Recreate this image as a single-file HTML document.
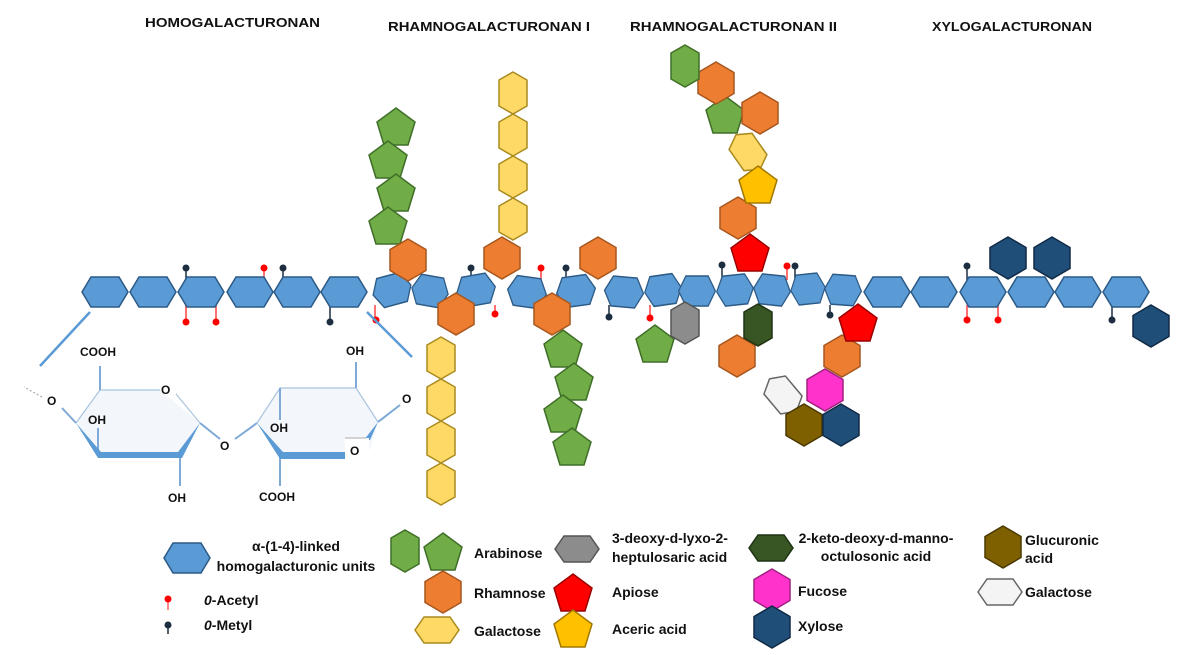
<!DOCTYPE html>
<html><head><meta charset="utf-8"><style>
html,body{margin:0;padding:0;background:#fff}
svg{display:block}
text{font-family:"Liberation Sans",sans-serif;font-weight:bold;fill:#111}
.t{font-size:13px}
.l{font-size:14px}
.c{font-size:12px}
</style></head><body>
<svg width="1179" height="655" viewBox="0 0 1179 655" xmlns="http://www.w3.org/2000/svg">
<defs>
<polygon id="hb" points="-23,0 -14,-15 14,-15 23,0 14,15 -14,15" stroke-width="1.5"/>
<polygon id="hx" points="0,-21 18,-10.5 18,10.5 0,21 -18,10.5 -18,-10.5" stroke-width="1.5"/>
<polygon id="hv" points="0,-21 14,-13 14,13 0,21 -14,13 -14,-13" stroke-width="1.5"/>
<polygon id="hh" points="-22,0 -13,-13 13,-13 22,0 13,13 -13,13" stroke-width="1.5"/>
<polygon id="pt" points="0,-20 19,-6 12,17 -12,17 -19,-6" stroke-width="1.5"/>
</defs>

<!-- titles -->
<text class="t" x="145" y="27" textLength="175" lengthAdjust="spacingAndGlyphs">HOMOGALACTURONAN</text>
<text class="t" x="388" y="31" textLength="202" lengthAdjust="spacingAndGlyphs">RHAMNOGALACTURONAN I</text>
<text class="t" x="630" y="31" textLength="207" lengthAdjust="spacingAndGlyphs">RHAMNOGALACTURONAN II</text>
<text class="t" x="932" y="31" textLength="160" lengthAdjust="spacingAndGlyphs">XYLOGALACTURONAN</text>

<!-- modifier stems -->
<g stroke-width="1.5">
<g stroke="#1c2e40">
<line x1="186" y1="268" x2="186" y2="280"/><line x1="283" y1="268" x2="283" y2="280"/><line x1="330" y1="305" x2="330" y2="322"/>
<line x1="471" y1="268" x2="471" y2="282"/><line x1="566" y1="268" x2="566" y2="282"/><line x1="609" y1="305" x2="609" y2="317"/>
<line x1="722" y1="265" x2="722" y2="280"/><line x1="795" y1="266" x2="795" y2="280"/><line x1="830" y1="305" x2="830" y2="315"/>
<line x1="967" y1="266" x2="967" y2="280"/><line x1="1112" y1="305" x2="1112" y2="320"/>
</g>
<g stroke="#ff4040">
<line x1="186" y1="305" x2="186" y2="321"/><line x1="216" y1="305" x2="216" y2="321"/><line x1="264" y1="268" x2="264" y2="280"/>
<line x1="375" y1="305" x2="375" y2="320"/><line x1="495" y1="305" x2="495" y2="314"/><line x1="541" y1="268" x2="541" y2="280"/>
<line x1="650" y1="305" x2="650" y2="318"/><line x1="787" y1="266" x2="787" y2="280"/>
<line x1="967" y1="305" x2="967" y2="320"/><line x1="998" y1="305" x2="998" y2="320"/>
</g>
</g>
<g fill="#1c2e40">
<circle cx="186" cy="268" r="3.5"/><circle cx="283" cy="268" r="3.5"/><circle cx="330" cy="322" r="3.5"/>
<circle cx="471" cy="268" r="3.5"/><circle cx="566" cy="268" r="3.5"/><circle cx="609" cy="317" r="3.5"/>
<circle cx="722" cy="265" r="3.5"/><circle cx="795" cy="266" r="3.5"/><circle cx="830" cy="315" r="3.5"/>
<circle cx="967" cy="266" r="3.5"/><circle cx="1112" cy="320" r="3.5"/>
</g>
<g fill="#ff0000">
<circle cx="186" cy="322" r="3.5"/><circle cx="216" cy="322" r="3.5"/><circle cx="264" cy="268" r="3.5"/>
<circle cx="376" cy="320" r="3.5"/><circle cx="495" cy="314" r="3.5"/><circle cx="541" cy="268" r="3.5"/>
<circle cx="650" cy="318" r="3.5"/><circle cx="787" cy="266" r="3.5"/>
<circle cx="967" cy="320" r="3.5"/><circle cx="998" cy="320" r="3.5"/>
</g>

<!-- backbone -->
<g fill="#5b9bd5" stroke="#2c5a86">
<use href="#hb" x="105" y="292"/><use href="#hb" x="153" y="292"/><use href="#hb" x="201" y="292"/>
<use href="#hb" x="250" y="292"/><use href="#hb" x="297" y="292"/><use href="#hb" x="344" y="292"/>
<use href="#hb" transform="translate(392,290) rotate(-15) scale(0.85,1)"/>
<use href="#hb" transform="translate(430,291) rotate(10) scale(0.8,1)"/>
<use href="#hb" transform="translate(476,290) rotate(-10) scale(0.85,1)"/>
<use href="#hb" transform="translate(527,292) rotate(8) scale(0.85,1)"/>
<use href="#hb" transform="translate(576,291) rotate(-8) scale(0.85,1)"/>
<use href="#hb" transform="translate(624,292) rotate(5) scale(0.85,1)"/>
<use href="#hb" transform="translate(663,290) rotate(-8) scale(0.8,1)"/>
<use href="#hb" transform="translate(697,291) scale(0.8,1)"/>
<use href="#hb" transform="translate(735,290) rotate(-6) scale(0.8,1)"/>
<use href="#hb" transform="translate(772,290) rotate(6) scale(0.8,1)"/>
<use href="#hb" transform="translate(808,289) rotate(-6) scale(0.75,1)"/>
<use href="#hb" transform="translate(843,290) rotate(4) scale(0.8,1)"/>
<use href="#hb" x="887" y="292"/><use href="#hb" x="934" y="292"/><use href="#hb" x="983" y="292"/>
<use href="#hb" x="1031" y="292"/><use href="#hb" x="1078" y="292"/><use href="#hb" x="1126" y="292"/>
</g>

<!-- RG I side chains -->
<g fill="#70ad47" stroke="#3f6e28">
<use href="#pt" x="396" y="128"/><use href="#pt" x="388" y="161"/><use href="#pt" x="396" y="194"/><use href="#pt" x="388" y="227"/>
<use href="#pt" x="563" y="350"/><use href="#pt" x="574" y="383"/><use href="#pt" x="563" y="415"/><use href="#pt" x="572" y="448"/>
<use href="#pt" x="655" y="345"/>
<use href="#pt" x="725" y="116"/>
</g>
<g fill="#ffd966" stroke="#a88a1e">
<use href="#hv" x="513" y="93"/><use href="#hv" x="513" y="135"/><use href="#hv" x="513" y="177"/><use href="#hv" x="513" y="219"/>
<use href="#hv" x="441" y="358"/><use href="#hv" x="441" y="400"/><use href="#hv" x="441" y="442"/><use href="#hv" x="441" y="484"/>
<use href="#hv" transform="translate(748,152) rotate(-35)"/>
</g>
<g fill="#ed7d31" stroke="#a6561e">
<use href="#hx" x="408" y="260"/><use href="#hx" x="456" y="314"/><use href="#hx" x="502" y="258"/>
<use href="#hx" x="552" y="314"/><use href="#hx" x="598" y="258"/>
<use href="#hx" x="716" y="83"/><use href="#hx" x="760" y="113"/><use href="#hx" x="738" y="218"/>
<use href="#hx" x="737" y="356"/><use href="#hx" x="842" y="356"/>
</g>
<!-- RG II -->
<use href="#hv" x="685" y="66" fill="#70ad47" stroke="#3f6e28"/>
<use href="#pt" x="758" y="186" fill="#ffc000" stroke="#a07800"/>
<use href="#pt" x="750" y="254" fill="#ff0000" stroke="#9a0000"/>
<use href="#pt" x="858" y="324" fill="#ff0000" stroke="#9a0000"/>
<use href="#hv" x="685" y="323" fill="#8c8c8c" stroke="#555"/>
<use href="#hv" x="758" y="325" fill="#375623" stroke="#1e3313"/>
<use href="#hx" x="825" y="390" fill="#ff33cc" stroke="#a0207f"/>
<use href="#hv" transform="translate(783,395) rotate(-40)" fill="#f4f4f4" stroke="#666"/>
<use href="#hx" x="804" y="425" fill="#7f6000" stroke="#4a3800"/>
<use href="#hx" x="841" y="425" fill="#1f4e79" stroke="#102a45"/>
<!-- XG -->
<g fill="#1f4e79" stroke="#102a45">
<use href="#hx" x="1008" y="258"/><use href="#hx" x="1052" y="258"/><use href="#hx" x="1151" y="326"/>
</g>

<!-- structure -->
<g stroke="#5b9bd5" stroke-width="2.5"><line x1="90" y1="312" x2="40" y2="366"/><line x1="367" y1="312" x2="412" y2="357"/></g>
<polygon points="76,423 100,390 160,390 200,423 178,455 98,455" fill="#f3f7fc"/>
<polygon points="257,423 280,388 356,388 378,422 368,455 280,455" fill="#f3f7fc"/>
<g stroke="#a9c4df" stroke-width="1.2" fill="none">
<polyline points="76,423 100,390 160,390"/><line x1="176" y1="394" x2="200" y2="423"/>
<polyline points="257,423 280,388 356,388 378,422"/>
<line x1="62" y1="408" x2="76" y2="423" stroke="#7fa9d6" stroke-width="2"/>
<line x1="42" y1="397" x2="24" y2="387" stroke-dasharray="2,2" stroke="#aaa"/>
</g>
<g stroke="#7fa9d6" stroke-width="2" fill="none">
<line x1="100" y1="366" x2="100" y2="390"/><line x1="98" y1="428" x2="98" y2="455"/>
<line x1="180" y1="455" x2="180" y2="486"/>
<line x1="200" y1="423" x2="220" y2="439"/><line x1="235" y1="439" x2="257" y2="423"/>
<line x1="280" y1="388" x2="280" y2="420"/><line x1="356" y1="362" x2="356" y2="388"/>
<line x1="378" y1="422" x2="400" y2="405"/><line x1="280" y1="455" x2="280" y2="486"/>
</g>
<polygon points="76,423 101,452 178,452 200,423 182,458 98,458" fill="#5b9bd5"/>
<polygon points="257,423 283,452 345,452 345,459 280,459" fill="#5b9bd5"/>
<polygon points="378,422 370,440 364,440" fill="#5b9bd5"/>
<rect x="345" y="438" width="24" height="22" fill="#fff"/>
<line x1="345" y1="438" x2="366" y2="438" stroke="#aaa"/>
<g class="c">
<text x="80" y="356">COOH</text><text x="88" y="424">OH</text><text x="168" y="502">OH</text>
<text x="161" y="394">O</text><text x="47" y="405">O</text><text x="220" y="450">O</text>
<text x="270" y="432">OH</text><text x="346" y="355">OH</text><text x="402" y="403">O</text>
<text x="350" y="455">O</text><text x="259" y="501">COOH</text>
</g>

<!-- legend -->
<use href="#hb" x="187" y="558" fill="#5b9bd5" stroke="#2c5a86"/>
<text class="l" x="296" y="551" text-anchor="middle">α-(1-4)-linked</text>
<text class="l" x="296" y="571" text-anchor="middle">homogalacturonic units</text>
<line x1="168" y1="600" x2="168" y2="610" stroke="#ff6060" stroke-width="1.5"/><circle cx="168" cy="599" r="3.5" fill="#f00"/>
<line x1="168" y1="626" x2="168" y2="634" stroke="#1c2e40" stroke-width="1.5"/><circle cx="168" cy="625" r="3.5" fill="#1c2e40"/>
<text class="l" x="204" y="605"><tspan font-style="italic">0</tspan>-Acetyl</text>
<text class="l" x="204" y="630"><tspan font-style="italic">0</tspan>-Metyl</text>

<use href="#hv" x="405" y="551" fill="#70ad47" stroke="#3f6e28"/>
<use href="#pt" x="443" y="553" fill="#70ad47" stroke="#3f6e28"/>
<text class="l" x="474" y="558">Arabinose</text>
<use href="#hx" x="443" y="592" fill="#ed7d31" stroke="#a6561e"/>
<text class="l" x="474" y="598">Rhamnose</text>
<use href="#hh" x="437" y="630" fill="#ffd966" stroke="#a88a1e"/>
<text class="l" x="474" y="636">Galactose</text>

<use href="#hh" x="577" y="549" fill="#8c8c8c" stroke="#555"/>
<text class="l" x="612" y="543">3-deoxy-d-lyxo-2-</text>
<text class="l" x="612" y="562">heptulosaric acid</text>
<use href="#pt" x="573" y="594" fill="#ff0000" stroke="#9a0000"/>
<text class="l" x="612" y="597">Apiose</text>
<use href="#pt" x="573" y="630" fill="#ffc000" stroke="#a07800"/>
<text class="l" x="612" y="634">Aceric acid</text>

<use href="#hh" x="771" y="548" fill="#375623" stroke="#1e3313"/>
<text class="l" x="876" y="543" text-anchor="middle">2-keto-deoxy-d-manno-</text>
<text class="l" x="876" y="561" text-anchor="middle">octulosonic acid</text>
<use href="#hx" x="772" y="590" fill="#ff33cc" stroke="#a0207f"/>
<text class="l" x="798" y="596">Fucose</text>
<use href="#hx" x="772" y="627" fill="#1f4e79" stroke="#102a45"/>
<text class="l" x="798" y="631">Xylose</text>

<use href="#hx" x="1003" y="547" fill="#7f6000" stroke="#4a3800"/>
<text class="l" x="1025" y="545">Glucuronic</text>
<text class="l" x="1025" y="563">acid</text>
<use href="#hh" x="1000" y="592" fill="#f4f4f4" stroke="#666"/>
<text class="l" x="1025" y="597">Galactose</text>
</svg>
</body></html>
